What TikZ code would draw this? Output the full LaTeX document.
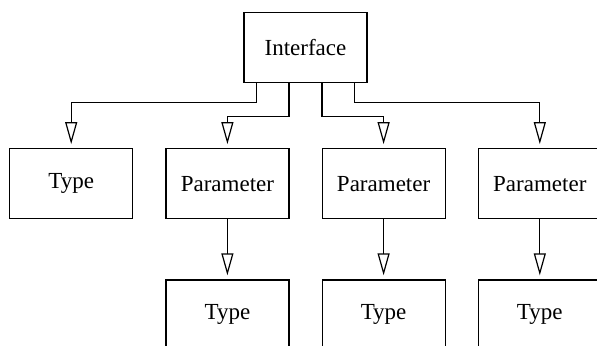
\documentclass[tikz,border=0pt]{standalone}
\usepackage{fontspec}
\setmainfont{Liberation Serif}
\usepackage{tikz}
\usetikzlibrary{positioning,arrows.meta}

\begin{document}
\begin{tikzpicture}[
			box/.style={rectangle, draw=black, line width=0.6pt, minimum width=61.5pt, minimum height=35pt, inner sep=0pt, font=\fontsize{11.5}{14}\selectfont},
			arr/.style={-{Triangle[open, length=11pt, width=6pt]}, line width=0.6pt, shorten >=2pt},
		]
		
			\useasboundingbox (-152.75pt,-148.75pt) rectangle (145.75pt,23.75pt);
		
			%Nodes
			\node[box]		(iface)		at (0,0)	{Interface};
			\node[box]		(par1)	[below left=32.5pt and 8pt of iface.south]	{Parameter};
			\node[box]		(par2)	[below right=32.5pt and 8pt of iface.south]	{Parameter};
			\node[box]		(par3)	[right=16pt of par2]	{Parameter};
			\node[box]		(type0)	[left=16pt of par1]	{Type};
			\node[box]		(type1)	[below=30pt of par1]	{Type};
			\node[box]		(type2)	[below=30pt of par2]	{Type};
			\node[box]		(type3)	[below=30pt of par3]	{Type};
		
			%Lines
			\draw[arr]	([xshift=-24.5pt]iface.south) -- ++(0,-9.5pt) -| (type0.north);
			\draw[arr]	([xshift=-8.25pt]iface.south) -- ++(0,-16.5pt) -| (par1.north);
			\draw[arr]	([xshift=8.25pt]iface.south) -- ++(0,-16.5pt) -| (par2.north);
			\draw[arr]	([xshift=24.5pt]iface.south) -- ++(0,-9.5pt) -| (par3.north);
			\draw[arr]	(par1) -- (type1);
			\draw[arr]	(par2) -- (type2);
			\draw[arr]	(par3) -- (type3);
		
		\end{tikzpicture}
\end{document}
